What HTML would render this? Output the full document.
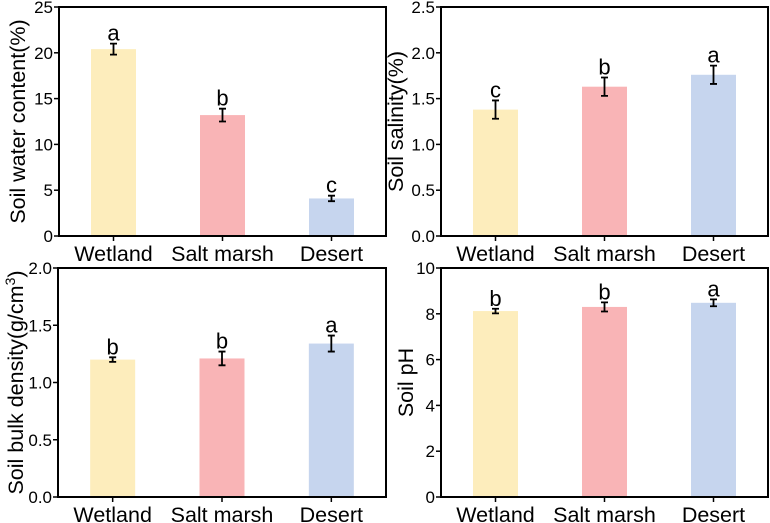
<!DOCTYPE html>
<html><head><meta charset="utf-8"><style>
body{margin:0;background:#fff}
svg{display:block;font-family:"Liberation Sans",Arial,sans-serif}
</style></head><body>
<svg id="chart" width="770" height="523" viewBox="0 0 770 523" xmlns="http://www.w3.org/2000/svg"></svg>
<script>
const categories = ["Wetland", "Salt marsh", "Desert"];
const waterValues = [20.4, 13.2, 4.1];
const waterErrors = [0.6, 0.7, 0.3];
const waterLetters = ["a", "b", "c"];
const waterTicks = ["0", "5", "10", "15", "20", "25"];
const salinityValues = [1.38, 1.63, 1.76];
const salinityErrors = [0.1, 0.1, 0.1];
const salinityLetters = ["c", "b", "a"];
const salinityTicks = ["0.0", "0.5", "1.0", "1.5", "2.0", "2.5"];
const bulkValues = [1.2, 1.21, 1.34];
const bulkErrors = [0.02, 0.06, 0.07];
const bulkLetters = ["b", "b", "a"];
const bulkTicks = ["0.0", "0.5", "1.0", "1.5", "2.0"];
const phValues = [8.12, 8.3, 8.48];
const phErrors = [0.1, 0.2, 0.15];
const phLetters = ["b", "b", "a"];
const phTicks = ["0", "2", "4", "6", "8", "10"];

const colors = ["#fdedbc", "#f9b4b6", "#c6d5ee"];
const svg = document.getElementById('chart');
const NS = "http://www.w3.org/2000/svg";
function mk(tag, attrs, parent) {
  const e = document.createElementNS(NS, tag);
  for (const k in attrs) e.setAttribute(k, attrs[k]);
  parent.appendChild(e);
  return e;
}
function panel(name, box, values, errors, letters, ticks, titleHTML) {
  const g = mk('g', {}, svg);
  
  
  const maxV = parseFloat(ticks[ticks.length - 1]);
  const y = v => box.y1 - (v / maxV) * (box.y1 - box.y0);
  const w = box.x1 - box.x0;
  const x = i => box.x0 + w * (2 * i + 1) / 6;
  const bw = 45;
  values.forEach((v, i) => {
    const r = mk('rect', {x: x(i) - bw / 2, y: y(v), width: bw, height: y(0) - y(v), fill: colors[i]}, g);
    
    
    const e = errors[i];
    const eb = mk('path', {d: `M${x(i)},${y(v + e)}V${y(v - e)}M${x(i) - 3.5},${y(v + e)}H${x(i) + 3.5}M${x(i) - 3.5},${y(v - e)}H${x(i) + 3.5}`, stroke: '#000', 'stroke-width': 1.8, fill: 'none'}, g);
    
    
    const t = mk('text', {x: x(i), y: y(v + e) - 3, 'text-anchor': 'middle', 'font-size': 22}, g);
    t.textContent = letters[i];
    
    
    mk('line', {x1: x(i), x2: x(i), y1: box.y1, y2: box.y1 + 5, stroke: '#000', 'stroke-width': 1.5}, g);
    const cl = mk('text', {x: x(i), y: box.y1 + 25, 'text-anchor': 'middle', 'font-size': 21.5}, g);
    cl.textContent = categories[i];
    
    
  });
  ticks.forEach(tv => {
    const v = parseFloat(tv);
    mk('line', {x1: box.x0 - 5, x2: box.x0, y1: y(v), y2: y(v), stroke: '#000', 'stroke-width': 1.5}, g);
    const t = mk('text', {x: box.x0 - 6, y: y(v) + 6, 'text-anchor': 'end', 'font-size': 17}, g);
    t.textContent = tv;
    
    
  });
  const fr = mk('rect', {x: box.x0, y: box.y0, width: w, height: box.y1 - box.y0, fill: 'none', stroke: '#000', 'stroke-width': 2}, g);
  
  
  const cy = (box.y0 + box.y1) / 2;
  const tt = mk('text', {x: 0, y: 0, 'text-anchor': 'middle', 'font-size': 21.5, transform: `translate(${box.tx},${cy}) rotate(-90)`}, g);
  tt.innerHTML = titleHTML;
  
  
}
panel('soil-water', {x0: 59, x1: 386, y0: 7, y1: 236, tx: 25}, waterValues, waterErrors, waterLetters, waterTicks, 'Soil water content(%)');
panel('soil-salinity', {x0: 441, x1: 768, y0: 7, y1: 236, tx: 403}, salinityValues, salinityErrors, salinityLetters, salinityTicks, 'Soil salinity(%)');
panel('soil-bulk-density', {x0: 58, x1: 386, y0: 268, y1: 497, tx: 23}, bulkValues, bulkErrors, bulkLetters, bulkTicks, 'Soil bulk density(g/cm<tspan dy="-8" font-size="14">3</tspan><tspan dy="8">)</tspan>');
panel('soil-ph', {x0: 441, x1: 768, y0: 268, y1: 497, tx: 413}, phValues, phErrors, phLetters, phTicks, 'Soil pH');
</script>
</body></html>
